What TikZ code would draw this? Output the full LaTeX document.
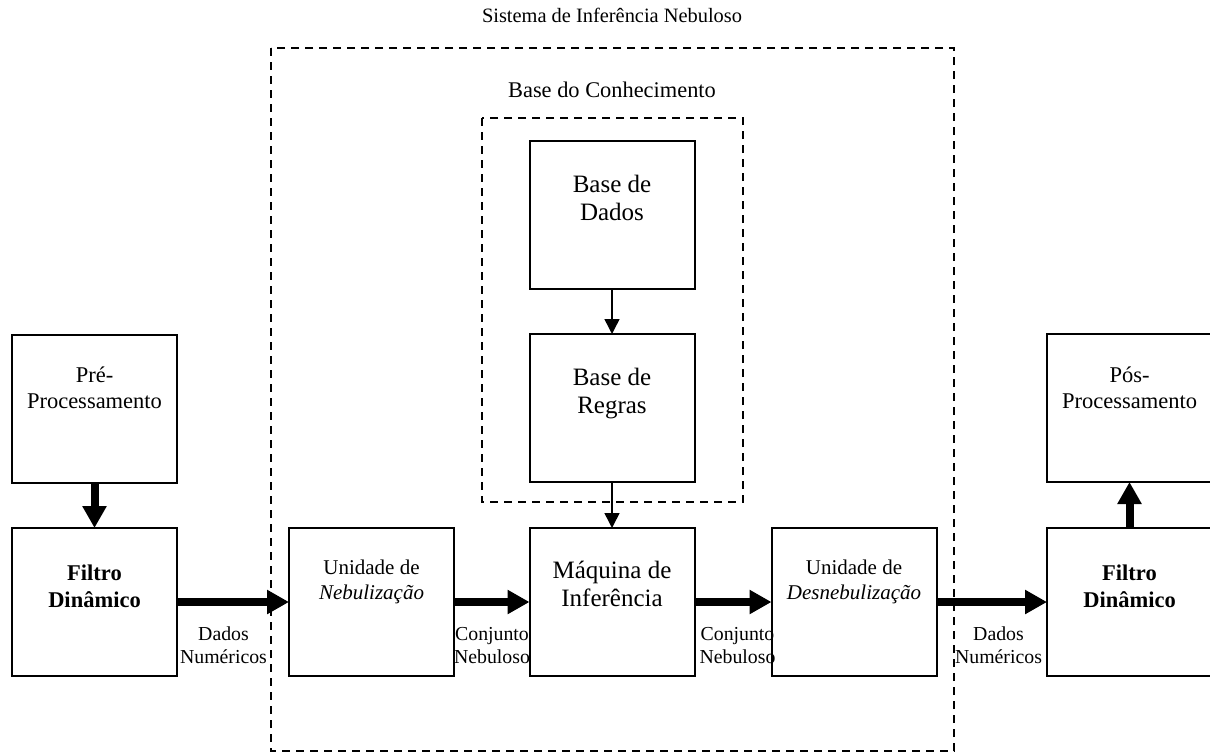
\documentclass[tikz,border=0pt]{standalone}
\usepackage{fontspec}
\setmainfont{Liberation Serif}
\usetikzlibrary{arrows.meta}
\newcommand{\myfs}[2]{\fontsize{#1}{#2}\selectfont}
\tikzset{
  box/.style={draw, line width=2pt, minimum width=165pt, minimum height=148pt, inner sep=0pt, outer sep=0pt},
  dashbox/.style={draw, line width=1.8pt, dash pattern=on 8pt off 6pt},
  bigarrow/.style={line width=8pt, -{Triangle[length=22pt,width=23pt]}},
  smallarrow/.style={line width=1.5pt, -{Triangle[length=15pt,width=15pt]}},
  txt/.style={align=center, inner sep=0pt, anchor=north},
  big/.style={font=\myfs{25}{28.5}},
  mid/.style={font=\myfs{22.5}{26}},
  midb/.style={font=\bfseries\myfs{22.5}{27}},
  uni/.style={font=\myfs{21}{25}},
  lab/.style={font=\myfs{19.8}{23}},
}
\begin{document}
\begin{tikzpicture}[x=1pt,y=-1pt]
\useasboundingbox (0,0) rectangle (1210,755);
% titles
\node[anchor=base, inner sep=0pt, font=\myfs{20.4}{24}] (title) at (612,22) {Sistema de Inferência Nebuloso};
\node[anchor=base, inner sep=0pt, font=\myfs{22.4}{26}] (kbtitle) at (612,97) {Base do Conhecimento};
% dashed frames
\draw[dashbox] (271,48) rectangle (954,751);
\draw[dashbox] (482,118) rectangle (743,502);
% boxes
\node[box] (bd) at (612,215) {};
\node[box] (br) at (612,408) {};
\node[box] (pre) at (94.5,408.5) {};
\node[box] (pos) at (1129.5,408) {};
\node[box] (fl) at (94.5,602) {};
\node[box] (un) at (371.5,602) {};
\node[box] (maq) at (612,602) {};
\node[box] (des) at (854,602) {};
\node[box] (fr) at (1129.5,602) {};
% box texts
\node[txt, big] (bdt) at (612,167) {\rule{0pt}{25pt}Base de\\Dados};
\node[txt, big] (brt) at (612,360) {\rule{0pt}{25pt}Base de\\Regras};
\node[txt, mid] (pret) at (94.5,359.5) {\rule{0pt}{22.5pt}Pré-\\Processamento};
\node[txt, mid] (post) at (1129.5,359.5) {\rule{0pt}{22.5pt}Pós-\\Processamento};
\node[txt, midb] (flt) at (94.5,557.5) {\rule{0pt}{22.5pt}Filtro\\Dinâmico};
\node[txt, midb] (frt) at (1129.5,557.5) {\rule{0pt}{22.5pt}Filtro\\Dinâmico};
\node[txt, uni] (unt) at (371.5,553) {\rule{0pt}{21pt}Unidade de\\\textit{Nebulização}};
\node[txt, uni] (dest) at (854,553) {\rule{0pt}{21pt}Unidade de\\\textit{Desnebulização}};
\node[txt, big] (maqt) at (612,553) {\rule{0pt}{25pt}Máquina de\\Inferência};
% connector labels
\node[txt, lab] (l1) at (223.5,620.2) {\rule{0pt}{19.8pt}Dados\\Numéricos};
\node[txt, lab] (l2) at (492,620.2) {\rule{0pt}{19.8pt}Conjunto\\Nebuloso};
\node[txt, lab] (l3) at (737.5,620.2) {\rule{0pt}{19.8pt}Conjunto\\Nebuloso};
\node[txt, lab] (l4) at (998.5,620.2) {\rule{0pt}{19.8pt}Dados\\Numéricos};
% connectors
\draw[smallarrow] (bd.south) -- (br.north);
\draw[smallarrow] (br.south) -- (maq.north);
\draw[bigarrow] (pre.south) -- (fl.north);
\draw[bigarrow] (fr.north) -- (pos.south);
\draw[bigarrow] (fl.east) -- (un.west);
\draw[bigarrow] (un.east) -- (maq.west);
\draw[bigarrow] (maq.east) -- (des.west);
\draw[bigarrow] (des.east) -- (fr.west);
\end{tikzpicture}
\end{document}
